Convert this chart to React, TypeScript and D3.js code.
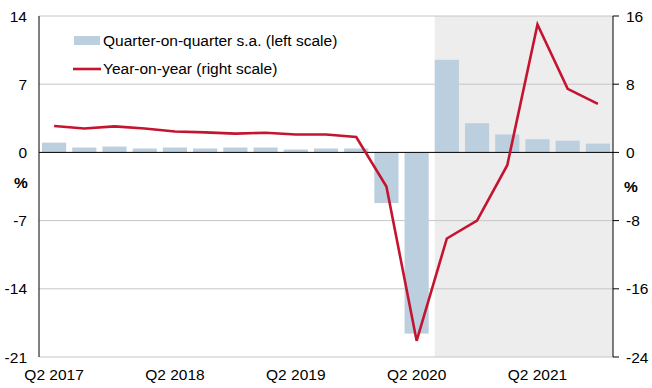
import { scaleBand, scaleLinear, line } from "d3";

const quarters = [
  "Q2 2017", "Q3 2017", "Q4 2017", "Q1 2018", "Q2 2018", "Q3 2018", "Q4 2018",
  "Q1 2019", "Q2 2019", "Q3 2019", "Q4 2019", "Q1 2020", "Q2 2020", "Q3 2020",
  "Q4 2020", "Q1 2021", "Q2 2021", "Q3 2021", "Q4 2021",
];
// quarter-on-quarter s.a., left scale
const qoq = [1.0, 0.5, 0.6, 0.4, 0.5, 0.4, 0.5, 0.5, 0.3, 0.4, 0.4, -5.2, -18.6, 9.5, 3.0, 1.85, 1.35, 1.2, 0.9];
// year-on-year, right scale
const yoy = [3.1, 2.8, 3.05, 2.8, 2.45, 2.35, 2.2, 2.3, 2.1, 2.1, 1.8, -4.0, -22.1, -10.1, -8.0, -1.5, 15.0, 7.45, 5.7];
const leftTicks = [14, 7, 0, -7, -14, -21];
const rightTicks = [16, 8, 0, -8, -16, -24];
const xLabels = ["Q2 2017", "Q2 2018", "Q2 2019", "Q2 2020", "Q2 2021"];
const shadeFrom = "Q3 2020";

const W = 652, H = 388;
const m = { left: 39, right: 613, top: 16, bottom: 357 };
const font = "'Liberation Sans', Arial, sans-serif";
const barColor = "#bccfdf";
const lineColor = "#c4142f";

export default function App() {
  const x = scaleBand<string>().domain(quarters).range([m.left, m.right]).paddingInner(0.2).paddingOuter(0.1);
  const yL = scaleLinear().domain([-21, 14]).range([m.bottom, m.top]);
  const yR = scaleLinear().domain([-24, 16]).range([m.bottom, m.top]);
  const cx = (q: string) => (x(q) ?? 0) + x.bandwidth() / 2;

  const path = line<number>()
    .x((_, i) => cx(quarters[i]))
    .y((d) => yR(d))(yoy);

  const shadeX = x(shadeFrom) ?? 0;

  return (
    <svg width={W} height={H} style={{ position: "absolute", left: 0, top: 0, background: "#fff" }} fontFamily={font}>
      <rect x={shadeX} y={m.top} width={m.right - shadeX} height={m.bottom - m.top} fill="#ededed" />
      {leftTicks.filter((t) => t !== 0).map((t) => (
        <line key={t} x1={m.left} x2={m.right} y1={yL(t)} y2={yL(t)} stroke="#c6c6c6" strokeWidth={1} />
      ))}
      {quarters.map((q, i) => {
        const v = qoq[i];
        return (
          <rect key={q} x={x(q)} width={x.bandwidth()} y={Math.min(yL(v), yL(0))} height={Math.abs(yL(v) - yL(0))} fill={barColor} />
        );
      })}
      <line x1={m.left} x2={m.right} y1={yL(0)} y2={yL(0)} stroke="#000" strokeWidth={1} />
      <line x1={m.left} x2={m.left} y1={m.top} y2={m.bottom} stroke="#000" strokeWidth={1} />
      <line x1={m.right} x2={m.right} y1={m.top} y2={m.bottom} stroke="#000" strokeWidth={1} />
      <path d={path ?? ""} fill="none" stroke={lineColor} strokeWidth={2.6} strokeLinejoin="miter" />

      {leftTicks.map((t) => (
        <text key={t} x={27} y={yL(t)} dy="0.36em" textAnchor="end" fontSize={15.5} fill="#000">{t}</text>
      ))}
      {rightTicks.map((t) => (
        <g key={t}>
          <line x1={m.right} x2={m.right + 6} y1={yR(t)} y2={yR(t)} stroke="#000" />
          <text x={626} y={yR(t)} dy="0.36em" textAnchor="start" fontSize={15.5} fill="#000">{t}</text>
        </g>
      ))}
      {xLabels.map((q) => (
        <text key={q} x={cx(q)} y={380} textAnchor="middle" fontSize={15.5} fill="#000">{q}</text>
      ))}
      <text x={21} y={188} textAnchor="middle" fontSize={15.5} fontWeight="bold">%</text>
      <text x={631} y={192} textAnchor="middle" fontSize={15.5} fontWeight="bold">%</text>

      <rect x={74} y={36} width={26} height={9} fill={barColor} />
      <text x={103} y={46} fontSize={15.5}>Quarter-on-quarter s.a. (left scale)</text>
      <line x1={73} x2={101} y1={69} y2={69} stroke={lineColor} strokeWidth={2.6} />
      <text x={103} y={74} fontSize={15.5}>Year-on-year (right scale)</text>
    </svg>
  );
}
